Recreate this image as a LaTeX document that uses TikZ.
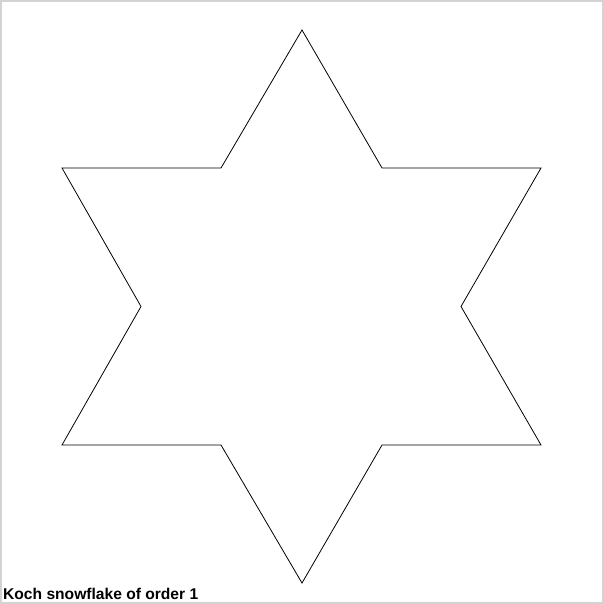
\documentclass[tikz,border=0pt]{standalone}
\usepackage{fontspec}
\setmainfont{Liberation Sans}
\definecolor{framegray}{HTML}{D3D3D3}
\begin{document}
\begin{tikzpicture}[x=1pt,y=-1pt,
  starline/.style={draw=black,line width=0.8pt,line join=miter},
  caption/.style={font=\bfseries\fontsize{15.6}{18}\selectfont,inner sep=0pt,anchor=base west}]
\useasboundingbox (0,0) rectangle (604,604);
\fill[framegray] (0,0) rectangle (604,604);
\fill[white] (2,2) rectangle (602,602);
\draw[starline] (302,30) -- (382,168) -- (541,168) -- (461,306.5) -- (541,445) -- (382,445) -- (302,583) -- (221,445) -- (62,445) -- (141,306.5) -- (62,168) -- (221,168) -- cycle;
\node[caption] (cap) at (3,599) {Koch snowflake of order 1};
\end{tikzpicture}
\end{document}
